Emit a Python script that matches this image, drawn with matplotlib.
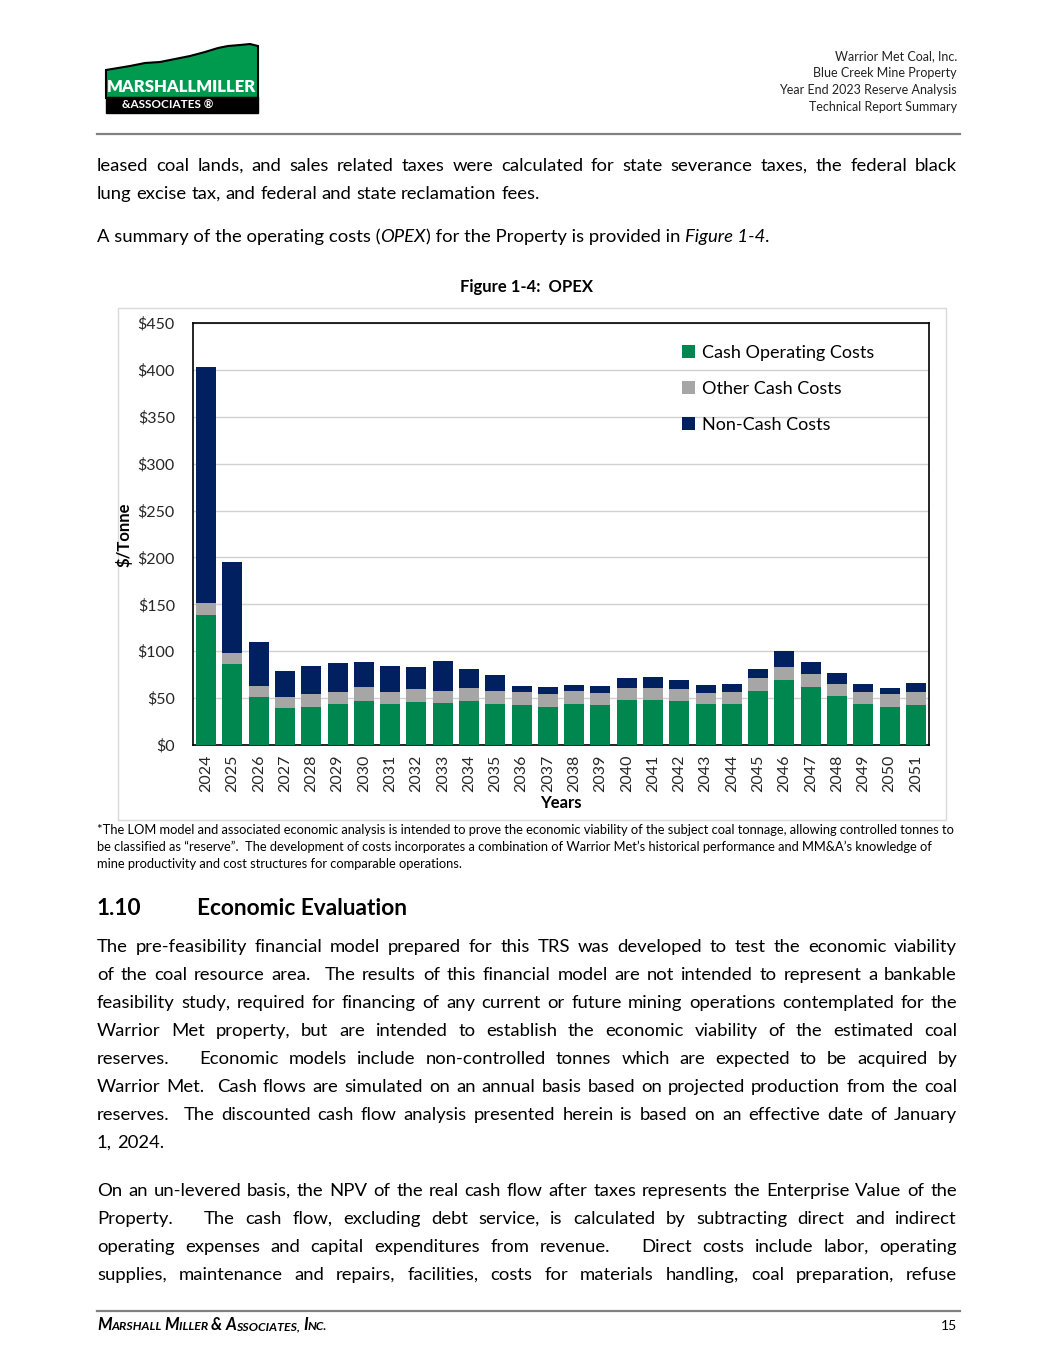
import numpy as np
import matplotlib
matplotlib.use('Agg')
from matplotlib import pyplot as plt
from matplotlib.patches import Rectangle, Polygon

# chart data ($/tonne)
years = ['2024', '2025', '2026', '2027', '2028', '2029', '2030', '2031', '2032', '2033',
         '2034', '2035', '2036', '2037', '2038', '2039', '2040', '2041', '2042', '2043',
         '2044', '2045', '2046', '2047', '2048', '2049', '2050', '2051']
cash_operating = [138.7, 86.4, 51.0, 39.0, 41.0, 44.0, 47.3, 43.4, 45.5, 44.8,
                  47.3, 44.0, 42.4, 40.9, 44.0, 42.4, 48.0, 48.0, 47.0, 43.4,
                  43.4, 57.6, 69.4, 61.9, 52.0, 43.8, 40.9, 43.0]
other_cash = [12.3, 11.5, 12.0, 12.0, 13.0, 13.0, 14.3, 13.2, 13.9, 12.8,
              13.2, 13.6, 13.8, 13.2, 13.3, 13.4, 13.2, 13.2, 12.4, 12.4,
              12.8, 13.9, 14.2, 14.2, 13.4, 12.4, 13.2, 13.6]
non_cash = [252.0, 97.7, 47.0, 28.0, 30.6, 30.8, 27.0, 27.4, 23.6, 32.0,
            20.9, 17.1, 7.1, 7.5, 6.7, 6.8, 10.0, 11.4, 9.6, 8.2,
            8.6, 9.9, 17.0, 12.8, 11.1, 8.6, 7.1, 9.2]
series_names = ['Cash Operating Costs', 'Other Cash Costs', 'Non-Cash Costs']
y_ticks = [0, 50, 100, 150, 200, 250, 300, 350, 400, 450]

# page text
header_lines = ['Warrior Met Coal, Inc.', 'Blue Creek Mine Property',
                'Year End 2023 Reserve Analysis', 'Technical Report Summary']
para1 = ['leased coal lands, and sales related taxes were calculated for state severance taxes, the federal black',
         'lung excise tax, and federal and state reclamation fees.']
para2 = [('A summary of the operating costs (', 'normal'), ('OPEX', 'italic'),
         (') for the Property is provided in ', 'normal'), ('Figure 1-4', 'italic'), ('.', 'normal')]
caption = 'Figure 1-4:  OPEX'
footnote = ['*The LOM model and associated economic analysis is intended to prove the economic viability of the subject coal tonnage, allowing controlled tonnes to',
            'be classified as \u201creserve\u201d.  The development of costs incorporates a combination of Warrior Met\u2019s historical performance and MM&A\u2019s knowledge of',
            'mine productivity and cost structures for comparable operations.']
para3 = ['The pre-feasibility financial model prepared for this TRS was developed to test the economic viability',
         'of the coal resource area.  The results of this financial model are not intended to represent a bankable',
         'feasibility study, required for financing of any current or future mining operations contemplated for the',
         'Warrior Met property, but are intended to establish the economic viability of the estimated coal',
         'reserves.   Economic models include non-controlled tonnes which are expected to be acquired by',
         'Warrior Met.  Cash flows are simulated on an annual basis based on projected production from the coal',
         'reserves.  The discounted cash flow analysis presented herein is based on an effective date of January',
         '1, 2024.']
para4 = ['On an un-levered basis, the NPV of the real cash flow after taxes represents the Enterprise Value of the',
         'Property.   The cash flow, excluding debt service, is calculated by subtracting direct and indirect',
         'operating expenses and capital expenditures from revenue.   Direct costs include labor, operating',
         'supplies, maintenance and repairs, facilities, costs for materials handling, coal preparation, refuse']

green = '#00874F'
grey = '#A6A6A6'
navy = '#002060'
FONT = ['Lato', 'DejaVu Sans']
BODY = 13.3

W, H = 1055, 1365
fig = plt.figure(figsize=(W / 100, H / 100), dpi=100)
page = fig.add_axes([0, 0, 1, 1])
page.set_xlim(0, W)
page.set_ylim(H, 0)
page.axis('off')
renderer = fig.canvas.get_renderer()


def text_w(s, **kw):
    t = page.text(0, 0, s + '|', family=FONT, **kw)
    w = t.get_window_extent(renderer).width
    t.remove()
    t = page.text(0, 0, '|', family=FONT, **kw)
    w -= t.get_window_extent(renderer).width
    t.remove()
    return w


def put_pieces(x, y, pieces, size=BODY, weight='normal'):
    for s, style in pieces:
        page.text(x, y, s, family=FONT, fontsize=size, style=style, weight=weight,
                  va='baseline', ha='left')
        x += text_w(s, fontsize=size, style=style, weight=weight)


def put_words(y, line, x0=97, x1=957, size=BODY, justify=True):
    tokens = line.split(' ')
    widths = [text_w(t, fontsize=size) if t else 0 for t in tokens]
    if justify:
        gap = (x1 - x0 - sum(widths)) / (len(tokens) - 1)
    else:
        gap = text_w(' ', fontsize=size)
    x = x0
    for t, w in zip(tokens, widths):
        if t:
            page.text(x, y, t, family=FONT, fontsize=size, va='baseline', ha='left')
        x += w + gap


# header
for i, s in enumerate(header_lines):
    page.text(957, 60 + 17 * i, s, family=FONT, fontsize=9.0, ha='right', va='baseline', color='#222222')
page.plot([97, 960], [134, 134], color='#808080', lw=1.6)

# logo
hill = [(106, 70), (118, 68), (130, 66), (145, 63), (160, 62), (175, 59), (190, 56),
        (205, 52), (218, 48), (228, 46), (240, 45), (250, 44), (258, 46), (258, 98), (106, 98)]
page.add_patch(Polygon(hill, closed=True, facecolor='#009A4E', edgecolor='black', lw=1.5))
page.add_patch(Rectangle((106, 97), 152, 16, facecolor='black', edgecolor='black'))
page.text(182, 92, 'MARSHALLMILLER', family=FONT, fontsize=12, weight='heavy', color='white',
          ha='center', va='baseline')
page.text(168, 109, '&ASSOCIATES \u00ae', family=FONT, fontsize=8.5, weight='bold', color='white',
          ha='center', va='baseline')

# paragraphs above the figure
put_words(171, para1[0])
put_words(199, para1[1], justify=False)
put_pieces(97, 242, para2)
page.text(527, 292, caption, family=FONT, fontsize=12, weight='bold', ha='center', va='baseline')

# chart frame
page.add_patch(Rectangle((118, 308), 828, 512, facecolor='none', edgecolor='#D9D9D9', lw=1))

ax = fig.add_axes([193 / W, 1 - 745 / H, 736 / W, 422 / H])
x = np.arange(len(years))
c1 = np.array(cash_operating)
c2 = np.array(other_cash)
ax.bar(x, c1, width=0.76, color=green, label=series_names[0], zorder=3)
ax.bar(x, c2, bottom=c1, width=0.76, color=grey, label=series_names[1], zorder=3)
ax.bar(x, non_cash, bottom=c1 + c2, width=0.76, color=navy, label=series_names[2], zorder=3)
ax.set_xlim(-0.5, len(years) - 0.5)
ax.set_ylim(0, 450)
ax.set_yticks(y_ticks)
ax.set_yticklabels(['$' + str(v) for v in y_ticks], family=FONT, fontsize=11.5, color='#262626')
ax.set_xticks(x)
ax.set_xticklabels(years, rotation=90, family=FONT, fontsize=11.5, color='#262626')
ax.tick_params(axis='y', length=0, pad=13)
ax.tick_params(axis='x', length=0, pad=7)
ax.yaxis.grid(True, color='#D0D0D0', lw=1)
ax.set_axisbelow(True)
for s in ax.spines.values():
    s.set_color('black')
    s.set_linewidth(1.2)
ax.legend(loc='upper left', bbox_to_anchor=(0.665, 0.948), frameon=False,
          prop={'family': FONT, 'size': 13}, handlelength=0.7, handleheight=0.7,
          handletextpad=0.4, labelspacing=1.1, borderaxespad=0, borderpad=0)
page.text(124, 535, '$/Tonne', family=FONT, fontsize=12, weight='bold', rotation=90,
          ha='center', va='center')
page.text(561, 803, 'Years', family=FONT, fontsize=12, weight='bold', ha='center', va='center')

# footnote
for i, s in enumerate(footnote):
    page.text(97, 834 + 17 * i, s, family=FONT, fontsize=9.25, va='baseline', ha='left')

# section heading
page.text(97, 915, '1.10', family=FONT, fontsize=16.3, weight='bold', va='baseline')
page.text(197, 915, 'Economic Evaluation', family=FONT, fontsize=16.3, weight='bold', va='baseline')

for i, line in enumerate(para3):
    put_words(952 + 28 * i, line, justify=(i < len(para3) - 1))
for i, line in enumerate(para4):
    put_words(1196 + 28 * i, line)

# footer
page.plot([97, 960], [1311, 1311], color='#808080', lw=1.6)
foot = [('M', 12), ('ARSHALL ', 8.8), ('M', 12), ('ILLER ', 8.8), ('& ', 12), ('A', 12),
        ('SSOCIATES, ', 8.8), ('I', 12), ('NC.', 8.8)]
fx = 97
for s, sz in foot:
    page.text(fx, 1330, s, family=FONT, fontsize=sz, style='italic', weight='bold', va='baseline')
    fx += text_w(s, fontsize=sz, style='italic', weight='bold')
page.text(957, 1330, '15', family=FONT, fontsize=10, ha='right', va='baseline')

fig.savefig('out.png', dpi=100)
